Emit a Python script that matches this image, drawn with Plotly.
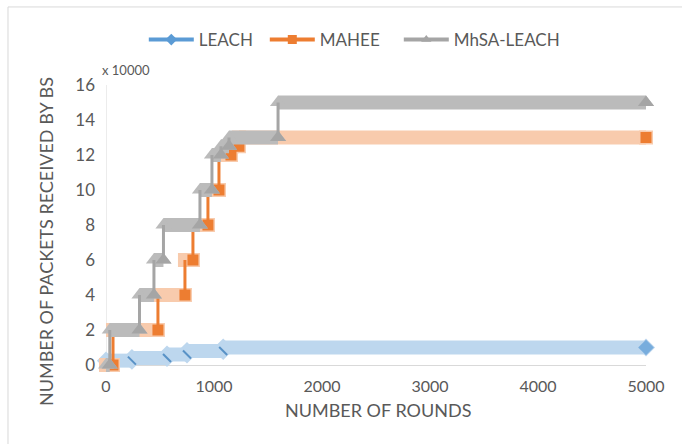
import plotly.graph_objects as go

# Packets received by the base station, in units of 10,000 packets.
# Each series is a staircase: the round at which a level starts and the level value.
ROUND_END = 5000

leach_start = [0, 240, 565, 750, 1085]
leach_pkts = [0.25, 0.4, 0.6, 0.8, 1.0]

mahee_start = [0, 65, 481, 731, 805, 944, 1046, 1157, 1231]
mahee_pkts = [0, 2, 4, 6, 8, 10, 12, 12.5, 13]

mhsa_start = [0, 35, 310, 444, 532, 870, 981, 1065, 1139, 1593]
mhsa_pkts = [0, 2, 4, 6, 8, 10, 12, 12.5, 13, 15]

x_ticks = [0, 1000, 2000, 3000, 4000, 5000]
y_ticks = [0, 2, 4, 6, 8, 10, 12, 14, 16]

FONT = "Lato, 'Open Sans', sans-serif"
TEXT = "#595959"
AXIS = "#D9D9D9"

fig = go.Figure()


def level_runs(starts, vals):
    ends = starts[1:] + [ROUND_END]
    return list(zip(starts, ends, vals))


def add_legend_entry(name, color, symbol, width):
    fig.add_trace(go.Scatter(
        x=[None], y=[None], name=name, mode="lines+markers",
        line=dict(color=color, width=4),
        marker=dict(symbol=symbol, size=9, color=color),
        legendwidth=width,
    ))


def add_staircase(starts, vals, main, light, band_symbol, end_style):
    runs = level_runs(starts, vals)

    # wide pale band along every level
    bx, by = [], []
    for s, e, v in runs:
        bx += [s, e, None]
        by += [v, v, None]
    fig.add_trace(go.Scatter(
        x=bx, y=by, mode="lines", line=dict(color=light, width=14),
        showlegend=False, hoverinfo="skip",
    ))
    # pale marker caps so the band reaches past the first/last point
    cx = [p for s, e, v in runs for p in (s, e)]
    cy = [v for s, e, v in runs for _ in (0, 1)]
    fig.add_trace(go.Scatter(
        x=cx, y=cy, mode="markers", cliponaxis=False,
        marker=dict(symbol=band_symbol, size=14, color=light),
        showlegend=False, hoverinfo="skip",
    ))

    # thin risers between consecutive levels
    vx, vy = [], []
    for (s0, e0, v0), (s1, e1, v1) in zip(runs[:-1], runs[1:]):
        vx += [s1, s1, None]
        vy += [v0, v1, None]
    fig.add_trace(go.Scatter(
        x=vx, y=vy, mode="lines", line=dict(color=main, width=3),
        showlegend=False, hoverinfo="skip",
    ))

    # solid marker at the last point of each level
    ex = [e for s, e, v in runs]
    ey = [v for s, e, v in runs]
    fig.add_trace(go.Scatter(
        x=ex, y=ey, mode="markers", cliponaxis=False,
        marker=end_style, showlegend=False, hoverinfo="skip",
    ))


add_legend_entry("LEACH", "#5B9BD5", "diamond", 61)
add_legend_entry("MAHEE", "#ED7D31", "square", 74)
add_legend_entry("MhSA-LEACH", "#A5A5A5", "triangle-up", 115)

# LEACH: small dark ticks at each step, diamond at the end
n_steps = len(leach_start) - 1
add_staircase(
    leach_start, leach_pkts, "#BDD7EE", "#BDD7EE", "diamond",
    dict(symbol=["line-nw"] * n_steps + ["diamond"],
         size=[8] * n_steps + [12],
         color="#5B9BD5",
         line=dict(color="#2E75B6", width=[2] * n_steps + [0])),
)
add_staircase(
    mahee_start, mahee_pkts, "#ED7D31", "#F8CBAD", "square",
    dict(symbol="square", size=11, color="#ED7D31"),
)
add_staircase(
    mhsa_start, mhsa_pkts, "#A5A5A5", "#BBBBBB", "triangle-up",
    dict(symbol="triangle-up", size=14, color="#A5A5A5"),
)

Y_MIN = -8 / 17.5  # room below zero so the base-level bands are not cut

fig.update_layout(
    width=682, height=444,
    margin=dict(l=106, r=36, t=85, b=71),
    paper_bgcolor="white", plot_bgcolor="white",
    font=dict(family=FONT, color=TEXT, size=16),
    showlegend=True,
    legend=dict(
        orientation="h", x=0.07, y=1.156, xanchor="left", yanchor="middle",
        font=dict(size=17, color=TEXT), itemwidth=45,
        bgcolor="rgba(0,0,0,0)", traceorder="normal",
    ),
    xaxis=dict(
        range=[0, ROUND_END], tickvals=x_ticks, ticktext=[str(t) for t in x_ticks],
        showgrid=False, showline=False, zeroline=False, ticks="",
        tickfont=dict(size=16, color=TEXT), ticklabelstandoff=2,
    ),
    yaxis=dict(
        range=[Y_MIN, 16], tickvals=y_ticks, ticktext=[str(t) for t in y_ticks],
        showgrid=False, showline=False, zeroline=True,
        zerolinecolor=AXIS, zerolinewidth=1, ticks="",
        tickfont=dict(size=17, color=TEXT), ticklabelstandoff=10,
    ),
    shapes=[
        # vertical axis line
        dict(type="line", xref="x", yref="y", x0=0, x1=0, y0=0, y1=16,
             line=dict(color=AXIS, width=1), layer="below"),
        # chart frame
        dict(type="rect", xref="paper", yref="paper",
             x0=-0.1815, x1=1.2, y0=-0.35, y1=1.271,
             line=dict(color=AXIS, width=1), layer="below"),
    ],
    annotations=[
        dict(text="x 10000", xref="paper", yref="paper", x=0.037, y=1.052,
             xanchor="center", yanchor="middle",
             showarrow=False, font=dict(size=13, color=TEXT)),
        dict(text="NUMBER OF PACKETS RECEIVED BY BS", xref="paper", yref="paper",
             x=-0.111, y=0.455, xanchor="center", yanchor="middle",
             textangle=-90, showarrow=False, font=dict(size=18, color=TEXT)),
        dict(text="NUMBER OF ROUNDS", xref="paper", yref="paper",
             x=0.504, y=-0.128, xanchor="center", yanchor="middle",
             showarrow=False, font=dict(size=18, color=TEXT)),
    ],
)

fig.write_html("out.html")
